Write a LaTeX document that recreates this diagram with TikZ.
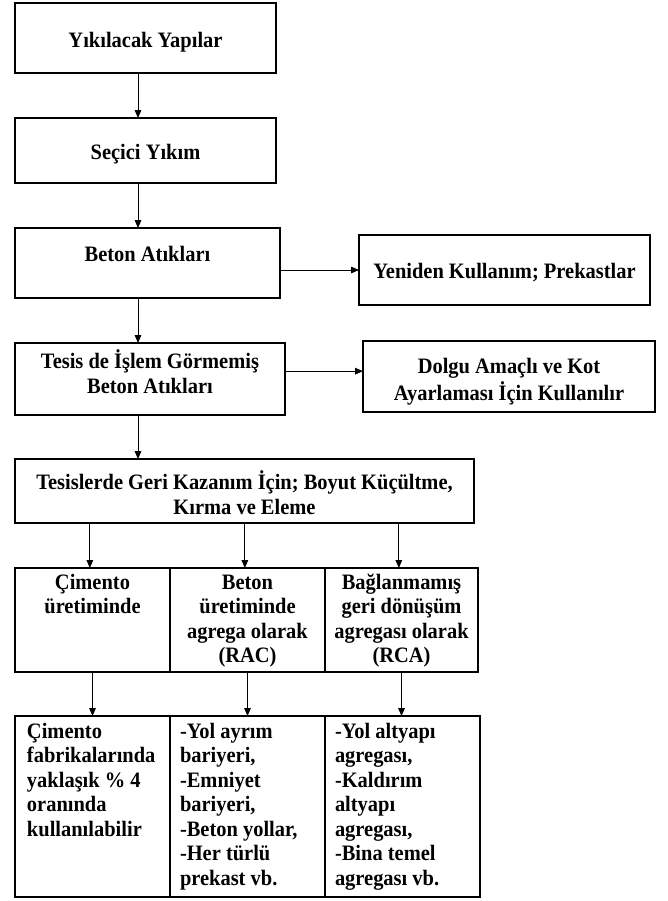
\documentclass[tikz,border=0pt]{standalone}
\usepackage{fontspec}
\setmainfont{Liberation Serif}[FakeStretch=0.93]
\usetikzlibrary{arrows.meta}
\newdimen\pxu \pxu=0.75pt
% box text: width, height, top pad, alignment, text
\newcommand{\yazi}[5]{\parbox[c][#2][t]{#1}{\vspace*{#3}#4\strut #5}}
\begin{document}
\begin{tikzpicture}[x=0.75pt,y=-0.75pt,
  font=\fontsize{16.5pt}{18.4pt}\selectfont\bfseries,
  kutu/.style={draw,line width=1.4pt,inner sep=0pt,outer sep=0pt,anchor=north west},
  ok/.style={-{Triangle[length=6pt,width=5pt]},line width=0.6pt}]
 \useasboundingbox (0,0) rectangle (668,901);
 \node[kutu] (yik) at (15,3) {\yazi{261\pxu}{70\pxu}{27\pxu}{\centering}{Yıkılacak Yapılar}};
 \node[kutu] (sec) at (15,118) {\yazi{261\pxu}{65\pxu}{24\pxu}{\centering}{Seçici Yıkım}};
 \node[kutu] (bet) at (15,228) {\yazi{265\pxu}{70\pxu}{16\pxu}{\centering}{Beton Atıkları}};
 \node[kutu] (yen) at (359,235) {\yazi{291\pxu}{70\pxu}{26\pxu}{\centering}{Yeniden Kullanım; Prekastlar}};
 \node[kutu] (tes) at (15,343) {\yazi{270\pxu}{72\pxu}{7\pxu}{\centering}{Tesis de İşlem Görmemiş\\Beton Atıkları}};
 \node[kutu] (dol) at (363,341) {\yazi{292\pxu}{71\pxu}{15\pxu}{\centering}{Dolgu Amaçlı ve Kot\\Ayarlaması İçin Kullanılır}};
 \node[kutu] (geri) at (15,459) {\yazi{459\pxu}{64\pxu}{12\pxu}{\centering}{Tesislerde Geri Kazanım İçin; Boyut Küçültme,\\Kırma ve Eleme}};
 % first row
 \node[kutu] (cim) at (15,568) {\yazi{155\pxu}{104\pxu}{4\pxu}{\centering}{Çimento\\üretiminde}};
 \node[kutu] (rac) at (170,568) {\yazi{155\pxu}{104\pxu}{4\pxu}{\centering}{Beton\\üretiminde\\agrega olarak\\(RAC)}};
 \node[kutu] (rca) at (325,568) {\yazi{153\pxu}{104\pxu}{4\pxu}{\centering}{Bağlanmamış\\geri dönüşüm\\agregası olarak\\(RCA)}};
 % second row
 \node[kutu] (fab) at (15,716) {\yazi{155\pxu}{181\pxu}{5\pxu}{\raggedright\leftskip=9pt}{Çimento\\fabrikalarında\\yaklaşık \% 4\\oranında\\kullanılabilir}};
 \node[kutu] (bar) at (170,716) {\yazi{155\pxu}{181\pxu}{5\pxu}{\raggedright\leftskip=7.5pt}{-Yol ayrım\\bariyeri,\\-Emniyet\\bariyeri,\\-Beton yollar,\\-Her türlü\\prekast vb.}};
 \node[kutu] (alt) at (325,716) {\yazi{155\pxu}{181\pxu}{5\pxu}{\raggedright\leftskip=7.5pt}{-Yol altyapı\\agregası,\\-Kaldırım\\altyapı\\agregası,\\-Bina temel\\agregası vb.}};
 % arrows
 \coordinate (ana) at (138,0);
 \coordinate (dg) at ([yshift=4pt]dol.west);
 \draw[ok] (yik.south -| ana) -- (sec.north -| ana);
 \draw[ok] (sec.south -| ana) -- (bet.north -| ana);
 \draw[ok] (bet.south -| ana) -- (tes.north -| ana);
 \draw[ok] (tes.south -| ana) -- (geri.north -| ana);
 \draw[ok] (bet.east |- yen.west) -- (yen.west);
 \draw[ok] (tes.east |- dg) -- (dg);
 \foreach \a/\b in {cim/fab,rac/bar,rca/alt}{
  \draw[ok] ([xshift=-2pt]geri.south -| \a.north) -- ([xshift=-2pt]\a.north);
  \draw[ok] (\a.south) -- (\a.south |- \b.north);
 }
\end{tikzpicture}
\end{document}
